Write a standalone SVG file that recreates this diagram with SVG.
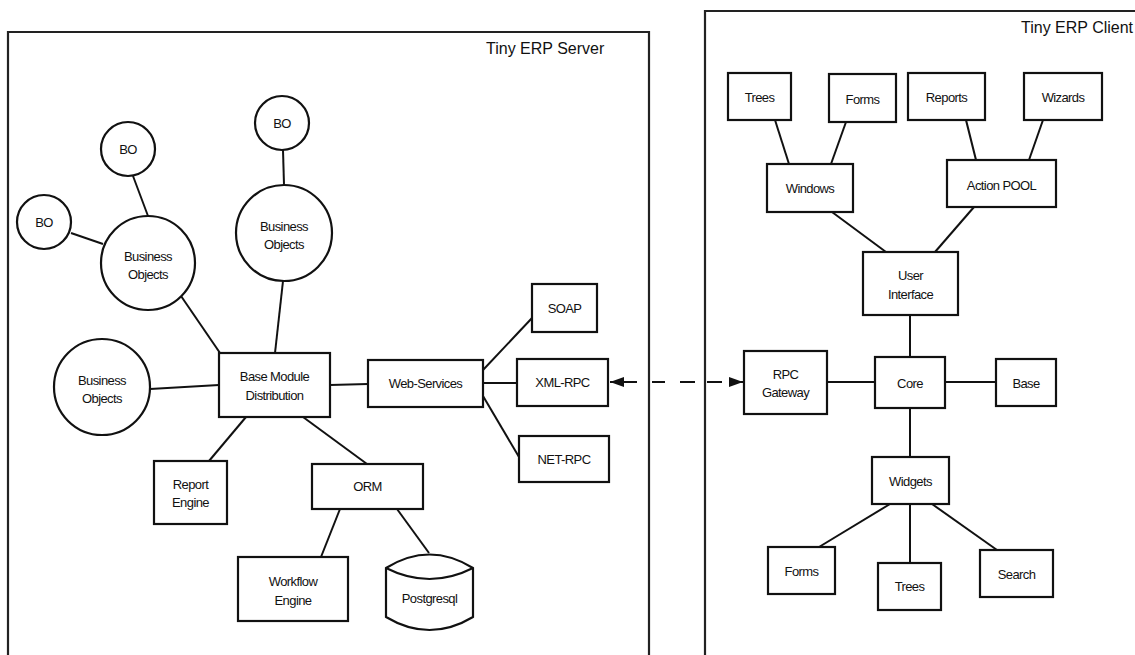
<svg xmlns="http://www.w3.org/2000/svg" width="1135" height="655" viewBox="0 0 1135 655">
<style>
.n{fill:#fff;stroke:#111;stroke-width:2.2}
.c{fill:none;stroke:#111;stroke-width:2}
.t{font-family:"Liberation Sans",Arial,sans-serif;font-size:13px;letter-spacing:-0.6px;fill:#111;text-anchor:middle}
.title{font-family:"Liberation Sans",Arial,sans-serif;font-size:16px;fill:#111}
.frame{fill:none;stroke:#222;stroke-width:2.2}
</style>
<defs>
<marker id="ah" viewBox="0 0 14 10" refX="14" refY="5" markerWidth="14" markerHeight="10" markerUnits="userSpaceOnUse" orient="auto-start-reverse">
<path d="M0,0 L14,5 L0,10 Z" fill="#111"/>
</marker>
</defs>
<rect width="1135" height="655" fill="#fff"/>
<g id="server-frame">
<path class="frame" d="M8,656 L8,32 L649,32 L649,656"/>
<text class="title" x="486" y="54">Tiny ERP Server</text>
</g>
<g id="client-frame">
<path class="frame" d="M705,656 L705,11 L1137,11"/>
<text class="title" x="1021" y="33">Tiny ERP Client</text>
</g>
<g id="connectors">
<line class="c" x1="283" y1="150" x2="284" y2="185"/>
<line class="c" x1="133" y1="176" x2="148" y2="216"/>
<line class="c" x1="71" y1="233" x2="103" y2="244"/>
<line class="c" x1="181" y1="296" x2="220" y2="353"/>
<line class="c" x1="283" y1="281" x2="275" y2="353"/>
<line class="c" x1="150" y1="389" x2="219" y2="385"/>
<line class="c" x1="246" y1="417" x2="209" y2="461"/>
<line class="c" x1="303" y1="417" x2="367" y2="464"/>
<line class="c" x1="340" y1="509" x2="321" y2="557"/>
<line class="c" x1="397" y1="509" x2="429" y2="553"/>
<line class="c" x1="330" y1="385" x2="368" y2="384"/>
<line class="c" x1="483" y1="370" x2="532" y2="318"/>
<line class="c" x1="483" y1="383" x2="517" y2="383"/>
<line class="c" x1="483" y1="396" x2="519" y2="457"/>
<line class="c" x1="610" y1="382" x2="743" y2="382" stroke-dasharray="27 15 13 15 15 12 15 7 14" marker-start="url(#ah)" marker-end="url(#ah)"/>
<line class="c" x1="775" y1="120" x2="789" y2="164"/>
<line class="c" x1="846" y1="122" x2="831" y2="164"/>
<line class="c" x1="966" y1="120" x2="976" y2="160"/>
<line class="c" x1="1043" y1="120" x2="1029" y2="160"/>
<line class="c" x1="832" y1="212" x2="886" y2="252"/>
<line class="c" x1="974" y1="207" x2="935" y2="252"/>
<line class="c" x1="910" y1="315" x2="910" y2="357"/>
<line class="c" x1="827" y1="382" x2="875" y2="382"/>
<line class="c" x1="945" y1="382" x2="996" y2="382"/>
<line class="c" x1="910" y1="408" x2="910" y2="457"/>
<line class="c" x1="890" y1="504" x2="819" y2="547"/>
<line class="c" x1="910" y1="504" x2="910" y2="563"/>
<line class="c" x1="932" y1="504" x2="997" y2="550"/>
</g>
<g id="bo-top"><circle class="n" cx="282" cy="123" r="27"/><text class="t" x="282" y="128">BO</text></g>
<g id="bo-upper"><circle class="n" cx="128" cy="149" r="27"/><text class="t" x="128" y="154">BO</text></g>
<g id="bo-left"><circle class="n" cx="44" cy="222" r="27"/><text class="t" x="44" y="227">BO</text></g>
<g id="business-objects-1"><circle class="n" cx="148" cy="263" r="47"/><text class="t" x="148" y="261">Business</text><text class="t" x="148" y="279">Objects</text></g>
<g id="business-objects-2"><circle class="n" cx="284" cy="233" r="48"/><text class="t" x="284" y="231">Business</text><text class="t" x="284" y="249">Objects</text></g>
<g id="business-objects-3"><circle class="n" cx="102" cy="387" r="48"/><text class="t" x="102" y="385">Business</text><text class="t" x="102" y="403">Objects</text></g>
<g id="base-module"><rect class="n" x="219" y="353" width="111" height="64"/><text class="t" x="274.5" y="381">Base Module</text><text class="t" x="274.5" y="400">Distribution</text></g>
<g id="report-engine"><rect class="n" x="154" y="461" width="73" height="63"/><text class="t" x="190.5" y="489">Report</text><text class="t" x="190.5" y="507">Engine</text></g>
<g id="orm"><rect class="n" x="312" y="464" width="111" height="45"/><text class="t" x="367.5" y="491">ORM</text></g>
<g id="workflow-engine"><rect class="n" x="238" y="557" width="110" height="64"/><text class="t" x="293" y="586">Workflow</text><text class="t" x="293" y="605">Engine</text></g>
<g id="postgresql">
<path class="n" d="M386,568 L386,617 Q429.5,643 473,617 L473,568 Q429.5,541 386,568 Z"/>
<path class="c" d="M386,568 Q429.5,590 473,568"/>
<text class="t" x="429.5" y="603">Postgresql</text>
</g>
<g id="web-services"><rect class="n" x="368" y="360" width="115" height="47"/><text class="t" x="425.5" y="388">Web-Services</text></g>
<g id="soap"><rect class="n" x="532" y="284" width="65" height="48"/><text class="t" x="564.5" y="313">SOAP</text></g>
<g id="xml-rpc"><rect class="n" x="517" y="359" width="91" height="47"/><text class="t" x="562.5" y="387">XML-RPC</text></g>
<g id="net-rpc"><rect class="n" x="519" y="436" width="90" height="46"/><text class="t" x="564" y="464">NET-RPC</text></g>
<g id="trees-top"><rect class="n" x="728" y="73" width="63" height="47"/><text class="t" x="759.5" y="102">Trees</text></g>
<g id="forms-top"><rect class="n" x="829" y="74" width="67" height="48"/><text class="t" x="862.5" y="104">Forms</text></g>
<g id="reports"><rect class="n" x="908" y="73" width="77" height="47"/><text class="t" x="946.5" y="102">Reports</text></g>
<g id="wizards"><rect class="n" x="1024" y="73" width="78" height="47"/><text class="t" x="1063" y="102">Wizards</text></g>
<g id="windows"><rect class="n" x="767" y="164" width="86" height="48"/><text class="t" x="810" y="193">Windows</text></g>
<g id="action-pool"><rect class="n" x="947" y="160" width="109" height="47"/><text class="t" x="1001.5" y="190">Action POOL</text></g>
<g id="user-interface"><rect class="n" x="863" y="252" width="95" height="63"/><text class="t" x="910.5" y="280">User</text><text class="t" x="910.5" y="299">Interface</text></g>
<g id="rpc-gateway"><rect class="n" x="744" y="351" width="83" height="63"/><text class="t" x="785.5" y="379">RPC</text><text class="t" x="785.5" y="397">Gateway</text></g>
<g id="core"><rect class="n" x="875" y="357" width="70" height="51"/><text class="t" x="910" y="388">Core</text></g>
<g id="base"><rect class="n" x="996" y="359" width="60" height="47"/><text class="t" x="1026" y="388">Base</text></g>
<g id="widgets"><rect class="n" x="872" y="457" width="77" height="47"/><text class="t" x="910.5" y="486">Widgets</text></g>
<g id="forms-bottom"><rect class="n" x="768" y="547" width="67" height="47"/><text class="t" x="801.5" y="576">Forms</text></g>
<g id="trees-bottom"><rect class="n" x="878" y="563" width="63" height="47"/><text class="t" x="909.5" y="591">Trees</text></g>
<g id="search"><rect class="n" x="980" y="550" width="73" height="47"/><text class="t" x="1016.5" y="579">Search</text></g>
</svg>
